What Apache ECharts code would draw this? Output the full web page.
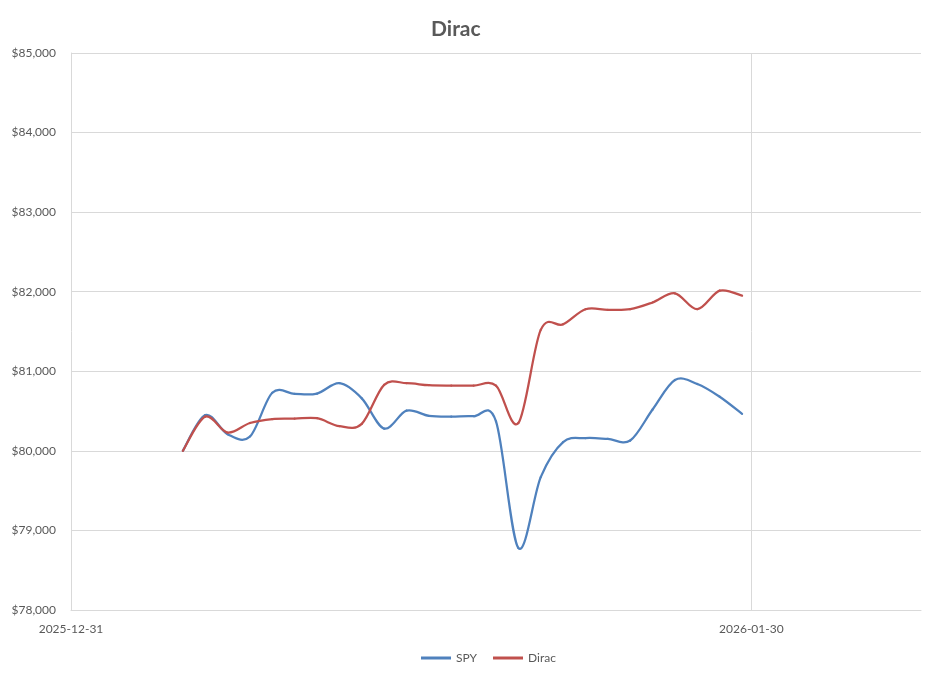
<!DOCTYPE html>
<html>
<head>
<meta charset="utf-8">
<script src="https://cdn.jsdelivr.net/npm/echarts@6/dist/echarts.min.js"></script>
<style>
  html, body { margin: 0; padding: 0; background: #fff; }
  #chart { width: 937px; height: 676px; }
</style>
</head>
<body>
<div id="chart"></div>
<script>
// daily values
const dates = [
  '2026-01-05', '2026-01-06', '2026-01-07', '2026-01-08', '2026-01-09', '2026-01-10',
  '2026-01-11', '2026-01-12', '2026-01-13', '2026-01-14', '2026-01-15', '2026-01-16',
  '2026-01-17', '2026-01-18', '2026-01-19', '2026-01-20', '2026-01-21', '2026-01-22',
  '2026-01-23', '2026-01-24', '2026-01-25', '2026-01-26', '2026-01-27', '2026-01-28',
  '2026-01-29', '2026-01-30'
];
const spy = [
  80000, 80450, 80210, 80180, 80730, 80715, 80720, 80850, 80660, 80280, 80505, 80440,
  80430, 80435, 80370, 78780, 79670, 80110, 80160, 80150, 80130, 80520, 80890, 80840,
  80680, 80465
];
const dirac = [
  80000, 80430, 80230, 80350, 80400, 80405, 80410, 80310, 80340, 80830, 80850, 80825,
  80820, 80820, 80820, 80350, 81520, 81590, 81780, 81772, 81780, 81865, 81980, 81780,
  82013, 81950
];

const baseDate = '2025-12-31';
const DAY = 86400000;
const dayOf = (d) => (Date.parse(d) - Date.parse(baseDate)) / DAY;
const dateLabel = (v) => new Date(Date.parse(baseDate) + Math.floor(v + 1e-6) * DAY).toISOString().slice(0, 10);

const textColor = '#595959';
const gridColor = '#d9d9d9';
const fontFamily = 'Lato, "Liberation Sans", sans-serif';

let chart;

// Excel style smoothing: each segment is a bezier with control points at 1/6 of neighbour spans
const smoothSeries = (name, values, color) => {
  return {
    name: name,
    type: 'custom',
    itemStyle: { color: color },
    data: dates.map((d, i) => [dayOf(d), values[i]]),
    encode: { x: 0, y: 1 },
    renderItem: (params, api) => {
      const i = params.dataIndex;
      const n = values.length;
      if (i >= n - 1) return null;
      const pt = (j) => {
        j = Math.max(0, Math.min(n - 1, j));
        return api.coord([dayOf(dates[j]), values[j]]);
      };
      const p0 = pt(i - 1), p1 = pt(i), p2 = pt(i + 1), p3 = pt(i + 2);
      return {
        type: 'bezierCurve',
        shape: {
          x1: p1[0], y1: p1[1],
          x2: p2[0], y2: p2[1],
          cpx1: p1[0] + (p2[0] - p0[0]) / 6,
          cpy1: p1[1] + (p2[1] - p0[1]) / 6,
          cpx2: p2[0] - (p3[0] - p1[0]) / 6,
          cpy2: p2[1] - (p3[1] - p1[1]) / 6
        },
        style: { stroke: color, lineWidth: 2.25, fill: null, lineCap: 'round' }
      };
    }
  };
};

const getOption = () => {
  return {
    animation: false,
    title: {
      text: 'Dirac',
      left: 426,
      top: 14,
      textStyle: { color: textColor, fontSize: 21, fontWeight: 'bold', fontFamily: fontFamily }
    },
    legend: {
      bottom: 7,
      left: 416,
      itemWidth: 30,
      itemHeight: 3,
      itemGap: 16,
      textStyle: { color: textColor, fontSize: 12, fontFamily: fontFamily },
      data: [
        { name: 'SPY', icon: 'rect' },
        { name: 'Dirac', icon: 'rect' }
      ]
    },
    grid: { left: 71, right: 16, top: 53, bottom: 66, containLabel: false },
    xAxis: {
      type: 'value',
      min: 0,
      max: 38,
      interval: 365 / 12,
      axisLine: { show: true, lineStyle: { color: gridColor } },
      axisTick: { show: false },
      axisLabel: {
        color: textColor,
        fontSize: 12,
        fontFamily: fontFamily,
        margin: 13,
        showMaxLabel: false,
        formatter: (v) => dateLabel(v)
      },
      splitLine: { show: true, showMinLine: false, showMaxLine: false, lineStyle: { color: gridColor } }
    },
    yAxis: {
      type: 'value',
      min: 78000,
      max: 85000,
      interval: 1000,
      axisLine: { show: true, lineStyle: { color: gridColor } },
      axisTick: { show: false },
      axisLabel: {
        color: textColor,
        fontSize: 12,
        fontFamily: fontFamily,
        margin: 15,
        formatter: (v) => '$' + v.toLocaleString('en-US')
      },
      splitLine: { show: true, lineStyle: { color: gridColor } }
    },
    series: [
      smoothSeries('SPY', spy, '#4f81bd'),
      smoothSeries('Dirac', dirac, '#c0504d')
    ]
  };
};

window.addEventListener('load', () => {
  chart = echarts.init(document.getElementById('chart'));
  chart.setOption(getOption());
});
</script>
</body>
</html>
